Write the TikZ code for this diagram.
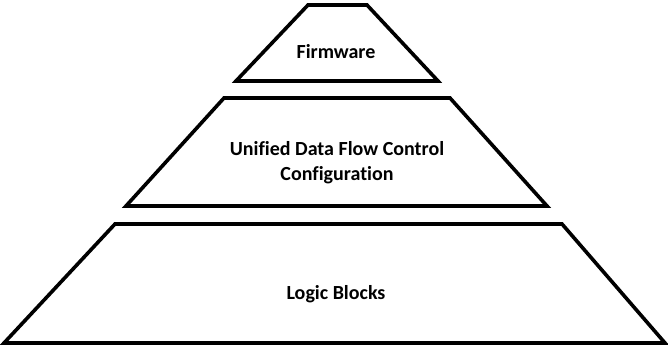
\documentclass[tikz,border=0pt]{standalone}
\usepackage{fontspec}
\setmainfont[Ligatures=NoCommon]{Carlito}
\begin{document}
\begin{tikzpicture}[x=1pt,y=-1pt,
  layer/.style={draw=black,line width=3.6pt,line join=miter},
  lbl/.style={font=\bfseries\fontsize{20}{25}\selectfont,align=center}]
\useasboundingbox (0,0) rectangle (668,350);
\draw[layer] (308,5) -- (367,5) -- (438,81) -- (236,81) -- cycle;
\draw[layer] (224,98) -- (450,98) -- (547,206) -- (126,206) -- cycle;
\draw[layer] (115,224) -- (562,224) -- (665,343) -- (4,343) -- cycle;
\node[lbl] (fw) at (336,52) {Firmware};
\node[lbl] (udf) at (337,163) {Unified Data Flow Control\\Configuration};
\node[lbl] (lb) at (336,294) {Logic Blocks};
\end{tikzpicture}
\end{document}
